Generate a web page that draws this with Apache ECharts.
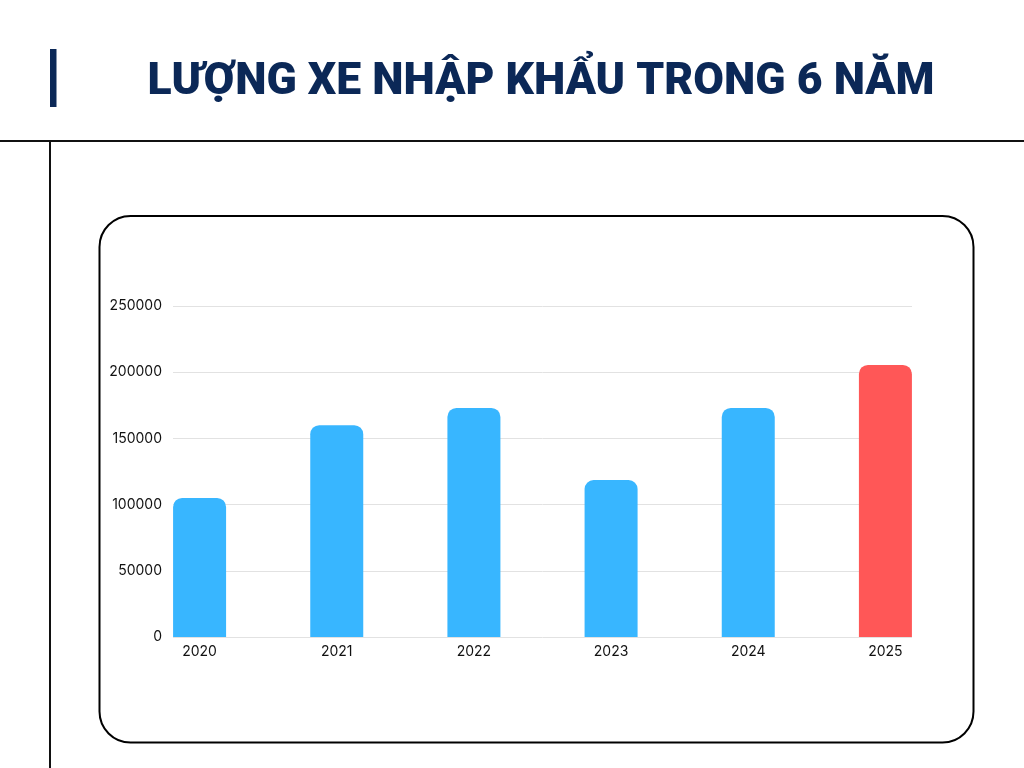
<!DOCTYPE html>
<html>
<head>
<meta charset="utf-8">
<script src="https://cdn.jsdelivr.net/npm/echarts@6/dist/echarts.min.js"></script>
<style>html,body{margin:0;padding:0;background:#fff;}#c{width:1024px;height:768px;}</style>
</head>
<body>
<div id="c"></div>
<script>
const titleText = 'LƯỢNG XE NHẬP KHẨU TRONG 6 NĂM';
const years = ['2020', '2021', '2022', '2023', '2024', '2025'];
const imports = [105000, 160000, 173000, 118500, 173000, 205500];
const highlightYear = '2025';
const yTicks = [0, 50000, 100000, 150000, 200000, 250000];

const blue = '#38B6FF', red = '#FF5757', navy = '#0B2857';
const chart = echarts.init(document.getElementById('c'), null, {renderer: 'canvas'});
const yMax = yTicks[yTicks.length - 1];
const yStep = yTicks[1] - yTicks[0];

chart.setOption({
  backgroundColor: '#ffffff',
  animation: false,
  textStyle: {fontFamily: 'Inter, Roboto, sans-serif'},
  grid: [
    {left: 173, right: 112, top: 306, bottom: 131},
    {left: 131, right: 70, top: 306, bottom: 131}
  ],
  xAxis: [
    {type: 'category', gridIndex: 0, data: years, show: false},
    {type: 'category', gridIndex: 1, data: years, boundaryGap: true,
     axisLine: {show: false}, axisTick: {show: false},
     axisLabel: {color: '#111', fontSize: 14, margin: 8, fontFamily: 'Inter, sans-serif'}}
  ],
  yAxis: [
    {type: 'value', gridIndex: 0, min: 0, max: yMax, interval: yStep,
     axisLine: {show: false}, axisTick: {show: false},
     axisLabel: {color: '#111', fontSize: 14, margin: 11, fontFamily: 'Inter, sans-serif',
                 formatter: v => String(v)},
     splitLine: {lineStyle: {color: '#e2e2e2', width: 1}}},
    {type: 'value', gridIndex: 1, min: 0, max: yMax, interval: yStep, show: false,
     splitLine: {show: false}}
  ],
  series: [{
    type: 'bar', xAxisIndex: 1, yAxisIndex: 1, barWidth: 53,
    data: imports.map((v, i) => ({
      value: v,
      itemStyle: {color: years[i] === highlightYear ? red : blue, borderRadius: [9, 9, 0, 0]}
    }))
  }],
  graphic: [
    {type: 'rect', shape: {x: 50, y: 49, width: 6.5, height: 58}, style: {fill: navy}},
    {type: 'text', x: 541, y: 83, style: {
      text: titleText, fill: navy, font: '900 44.5px Roboto, sans-serif',
      align: 'center', verticalAlign: 'middle'}},
    {type: 'line', shape: {x1: 0, y1: 141, x2: 1024, y2: 141}, style: {stroke: '#111', lineWidth: 2}},
    {type: 'line', shape: {x1: 50, y1: 141, x2: 50, y2: 768}, style: {stroke: '#111', lineWidth: 2}},
    {type: 'rect', shape: {x: 99.5, y: 216, width: 874, height: 526.5, r: 31},
     style: {fill: 'none', stroke: '#000', lineWidth: 2}, z: -1}
  ]
});
</script>
</body>
</html>
